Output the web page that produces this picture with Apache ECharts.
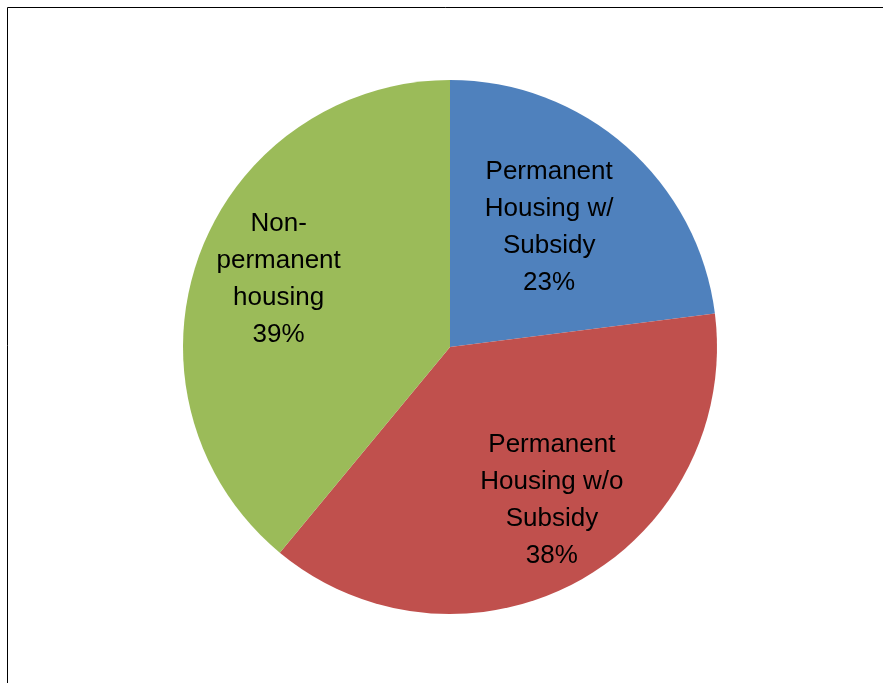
<!DOCTYPE html>
<html>
<head>
<meta charset="utf-8">
<title>Housing outcomes</title>
<script src="https://cdn.jsdelivr.net/npm/echarts@6/dist/echarts.min.js"></script>
<style>
  html, body { margin: 0; padding: 0; background: #fff; }
  #chart { width: 883px; height: 683px; }
</style>
</head>
<body>
<div id="chart"></div>
<script>
// Housing destinations, share of exits
const categories = ['Permanent\nHousing w/\nSubsidy', 'Permanent\nHousing w/o\nSubsidy', 'Non-\npermanent\nhousing'];
const shares = [23, 38, 39];
const colors = ['#4F81BD', '#C0504D', '#9BBB59'];
// outward push of each label from the default mid-radius spot, plus a small nudge
const labelPush = [24, 48, 52];
const labelNudge = [[-7, 1], [13, -8], [6, -4]];

const chart = echarts.init(document.getElementById('chart'), null, { renderer: 'canvas' });
const cx = 450, cy = 347;

chart.setOption({
  backgroundColor: '#ffffff',
  animation: false,
  graphic: [{
    type: 'rect',
    shape: { x: 7.5, y: 7.5, width: 900, height: 700 },
    style: { fill: 'none', stroke: '#000', lineWidth: 1 },
    silent: true
  }],
  series: [{
    type: 'pie',
    center: [cx, cy],
    radius: 267,
    startAngle: 90,
    clockwise: true,
    avoidLabelOverlap: false,
    data: categories.map((name, i) => ({
      name: name,
      value: shares[i],
      itemStyle: { color: colors[i] }
    })),
    itemStyle: { borderWidth: 0 },
    emphasis: { disabled: true },
    label: {
      show: true,
      position: 'inside',
      formatter: p => p.name + '\n' + p.value + '%',
      fontFamily: '"Liberation Sans Narrow", "Arial Narrow", "Liberation Sans", sans-serif',
      fontSize: 26,
      lineHeight: 37,
      color: '#000',
      align: 'center'
    },
    labelLine: { show: false },
    labelLayout: function (params) {
      const r = params.labelRect;
      const lx = r.x + r.width / 2, ly = r.y + r.height / 2;
      const vx = lx - cx, vy = ly - cy;
      const len = Math.sqrt(vx * vx + vy * vy) || 1;
      const k = labelPush[params.dataIndex];
      const n = labelNudge[params.dataIndex];
      return { dx: vx / len * k + n[0], dy: vy / len * k + n[1] };
    }
  }]
});
</script>
</body>
</html>
